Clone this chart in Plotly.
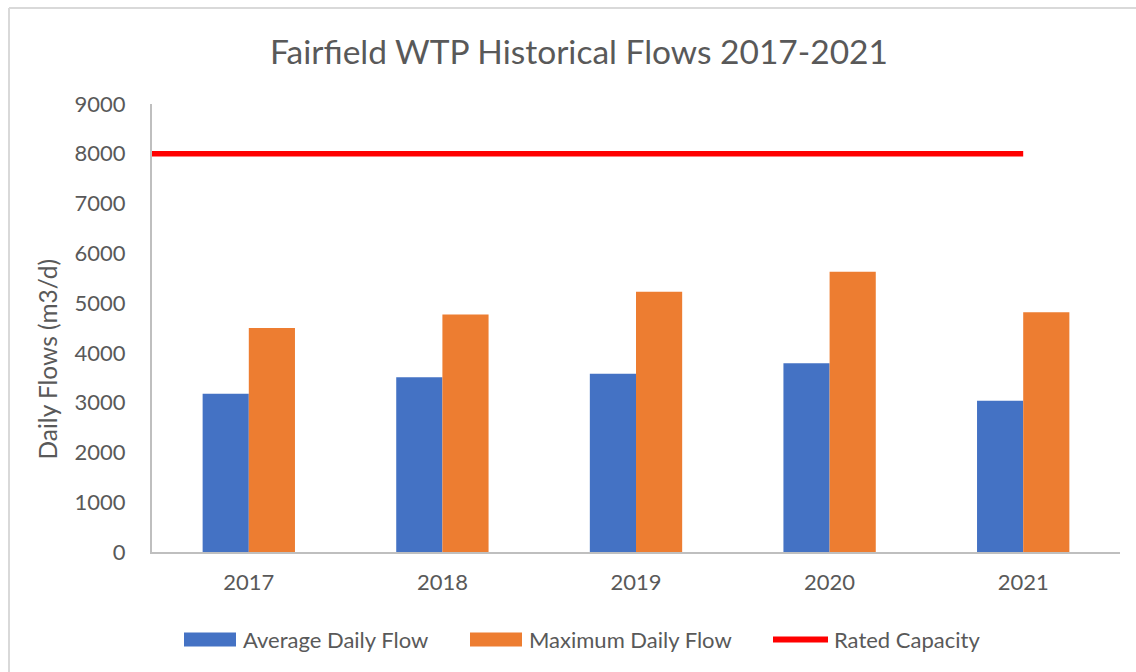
import plotly.graph_objects as go

# ---- data ----
years = ["2017", "2018", "2019", "2020", "2021"]
avg_daily_flow = [3180, 3510, 3580, 3790, 3040]
max_daily_flow = [4500, 4770, 5230, 5630, 4815]
rated_capacity = 8000
series_names = ["Average Daily Flow", "Maximum Daily Flow", "Rated Capacity"]
colors = ["#4472C4", "#ED7D31", "#FF0000"]
y_ticks = list(range(0, 10000, 1000))
y_title = "Daily Flows (m3/d)"

FONT = "Lato, Calibri, sans-serif"
TXT = "#595959"

W, H = 1136, 672
L, R, T, B = 152, 16, 104, 120
PW, PH = W - L - R, H - T - B


def px(x):
    return (x - L) / PW


def py(y):
    return (H - B - y) / PH


idx = list(range(len(years)))
x_range = [-0.5, len(years) - 0.5]

fig = go.Figure()
fig.add_trace(go.Bar(x=idx, y=avg_daily_flow, name=series_names[0],
                     marker=dict(color=colors[0], line=dict(width=0)), showlegend=False))
fig.add_trace(go.Bar(x=idx, y=max_daily_flow, name=series_names[1],
                     marker=dict(color=colors[1], line=dict(width=0)), showlegend=False))
line_x = [x_range[0]] + idx
line_y = [rated_capacity] * len(line_x)
fig.add_trace(go.Scatter(x=line_x, y=line_y, mode="lines", name=series_names[2],
                         line=dict(color=colors[2], width=5.5), showlegend=False,
                         cliponaxis=False))

fig.update_layout(
    width=W, height=H,
    margin=dict(l=L, r=R, t=T, b=B),
    paper_bgcolor="white", plot_bgcolor="white",
    barmode="group", bargap=0.523, bargroupgap=0,
    font=dict(family=FONT, color=TXT, size=22),
    title=dict(text="Fairfield WTP Historical Flows 2017-2021",
               x=579 / W, xanchor="center", xref="container",
               y=1 - 52 / H, yanchor="middle", yref="container",
               font=dict(family=FONT, size=33.5, color=TXT)),
    xaxis=dict(range=x_range, tickvals=idx, ticktext=years, showgrid=False,
               zeroline=False, showline=True, linecolor="#BFBFBF", linewidth=2,
               ticks="", ticklabelstandoff=10, tickfont=dict(size=22, color=TXT)),
    yaxis=dict(range=[0, 9000], tickvals=y_ticks, showgrid=False, zeroline=False,
               showline=True, linecolor="#BFBFBF", linewidth=2, ticks="",
               ticklabelstandoff=20, tickfont=dict(size=22, color=TXT)),
)

# y-axis title (positioned as in the reference)
fig.add_annotation(text=y_title, xref="paper", yref="paper", x=px(47), y=py(359.5),
                   xanchor="center", yanchor="middle", textangle=-90, showarrow=False,
                   font=dict(family=FONT, size=24.5, color=TXT))

# chart-area border (Excel style): only top and left edges are inside the frame
fig.add_shape(type="line", xref="paper", yref="paper",
              x0=px(9), x1=px(W + 40), y0=py(8), y1=py(8),
              line=dict(color="#D9D9D9", width=2), layer="below")
fig.add_shape(type="line", xref="paper", yref="paper",
              x0=px(9), x1=px(9), y0=py(8), y1=py(H + 40),
              line=dict(color="#D9D9D9", width=2), layer="below")

# custom legend
leg_y = 639.5
leg_items = [(184, 236, 241), (470, 522, 527), (773, 828, 832)]
for i, (x0, x1, xt) in enumerate(leg_items):
    if i < 2:
        fig.add_shape(type="rect", xref="paper", yref="paper",
                      x0=px(x0), x1=px(x1), y0=py(leg_y + 7), y1=py(leg_y - 7),
                      line=dict(width=0), fillcolor=colors[i])
    else:
        fig.add_shape(type="line", xref="paper", yref="paper",
                      x0=px(x0), x1=px(x1), y0=py(leg_y), y1=py(leg_y),
                      line=dict(color=colors[i], width=6))
    fig.add_annotation(text=series_names[i], xref="paper", yref="paper",
                       x=px(xt), y=py(leg_y), xanchor="left", yanchor="middle",
                       showarrow=False, font=dict(family=FONT, size=22, color=TXT))

fig.write_html("out.html", config={"displayModeBar": False},
               post_script="document.body.style.margin='0';document.body.style.overflow='hidden';")
